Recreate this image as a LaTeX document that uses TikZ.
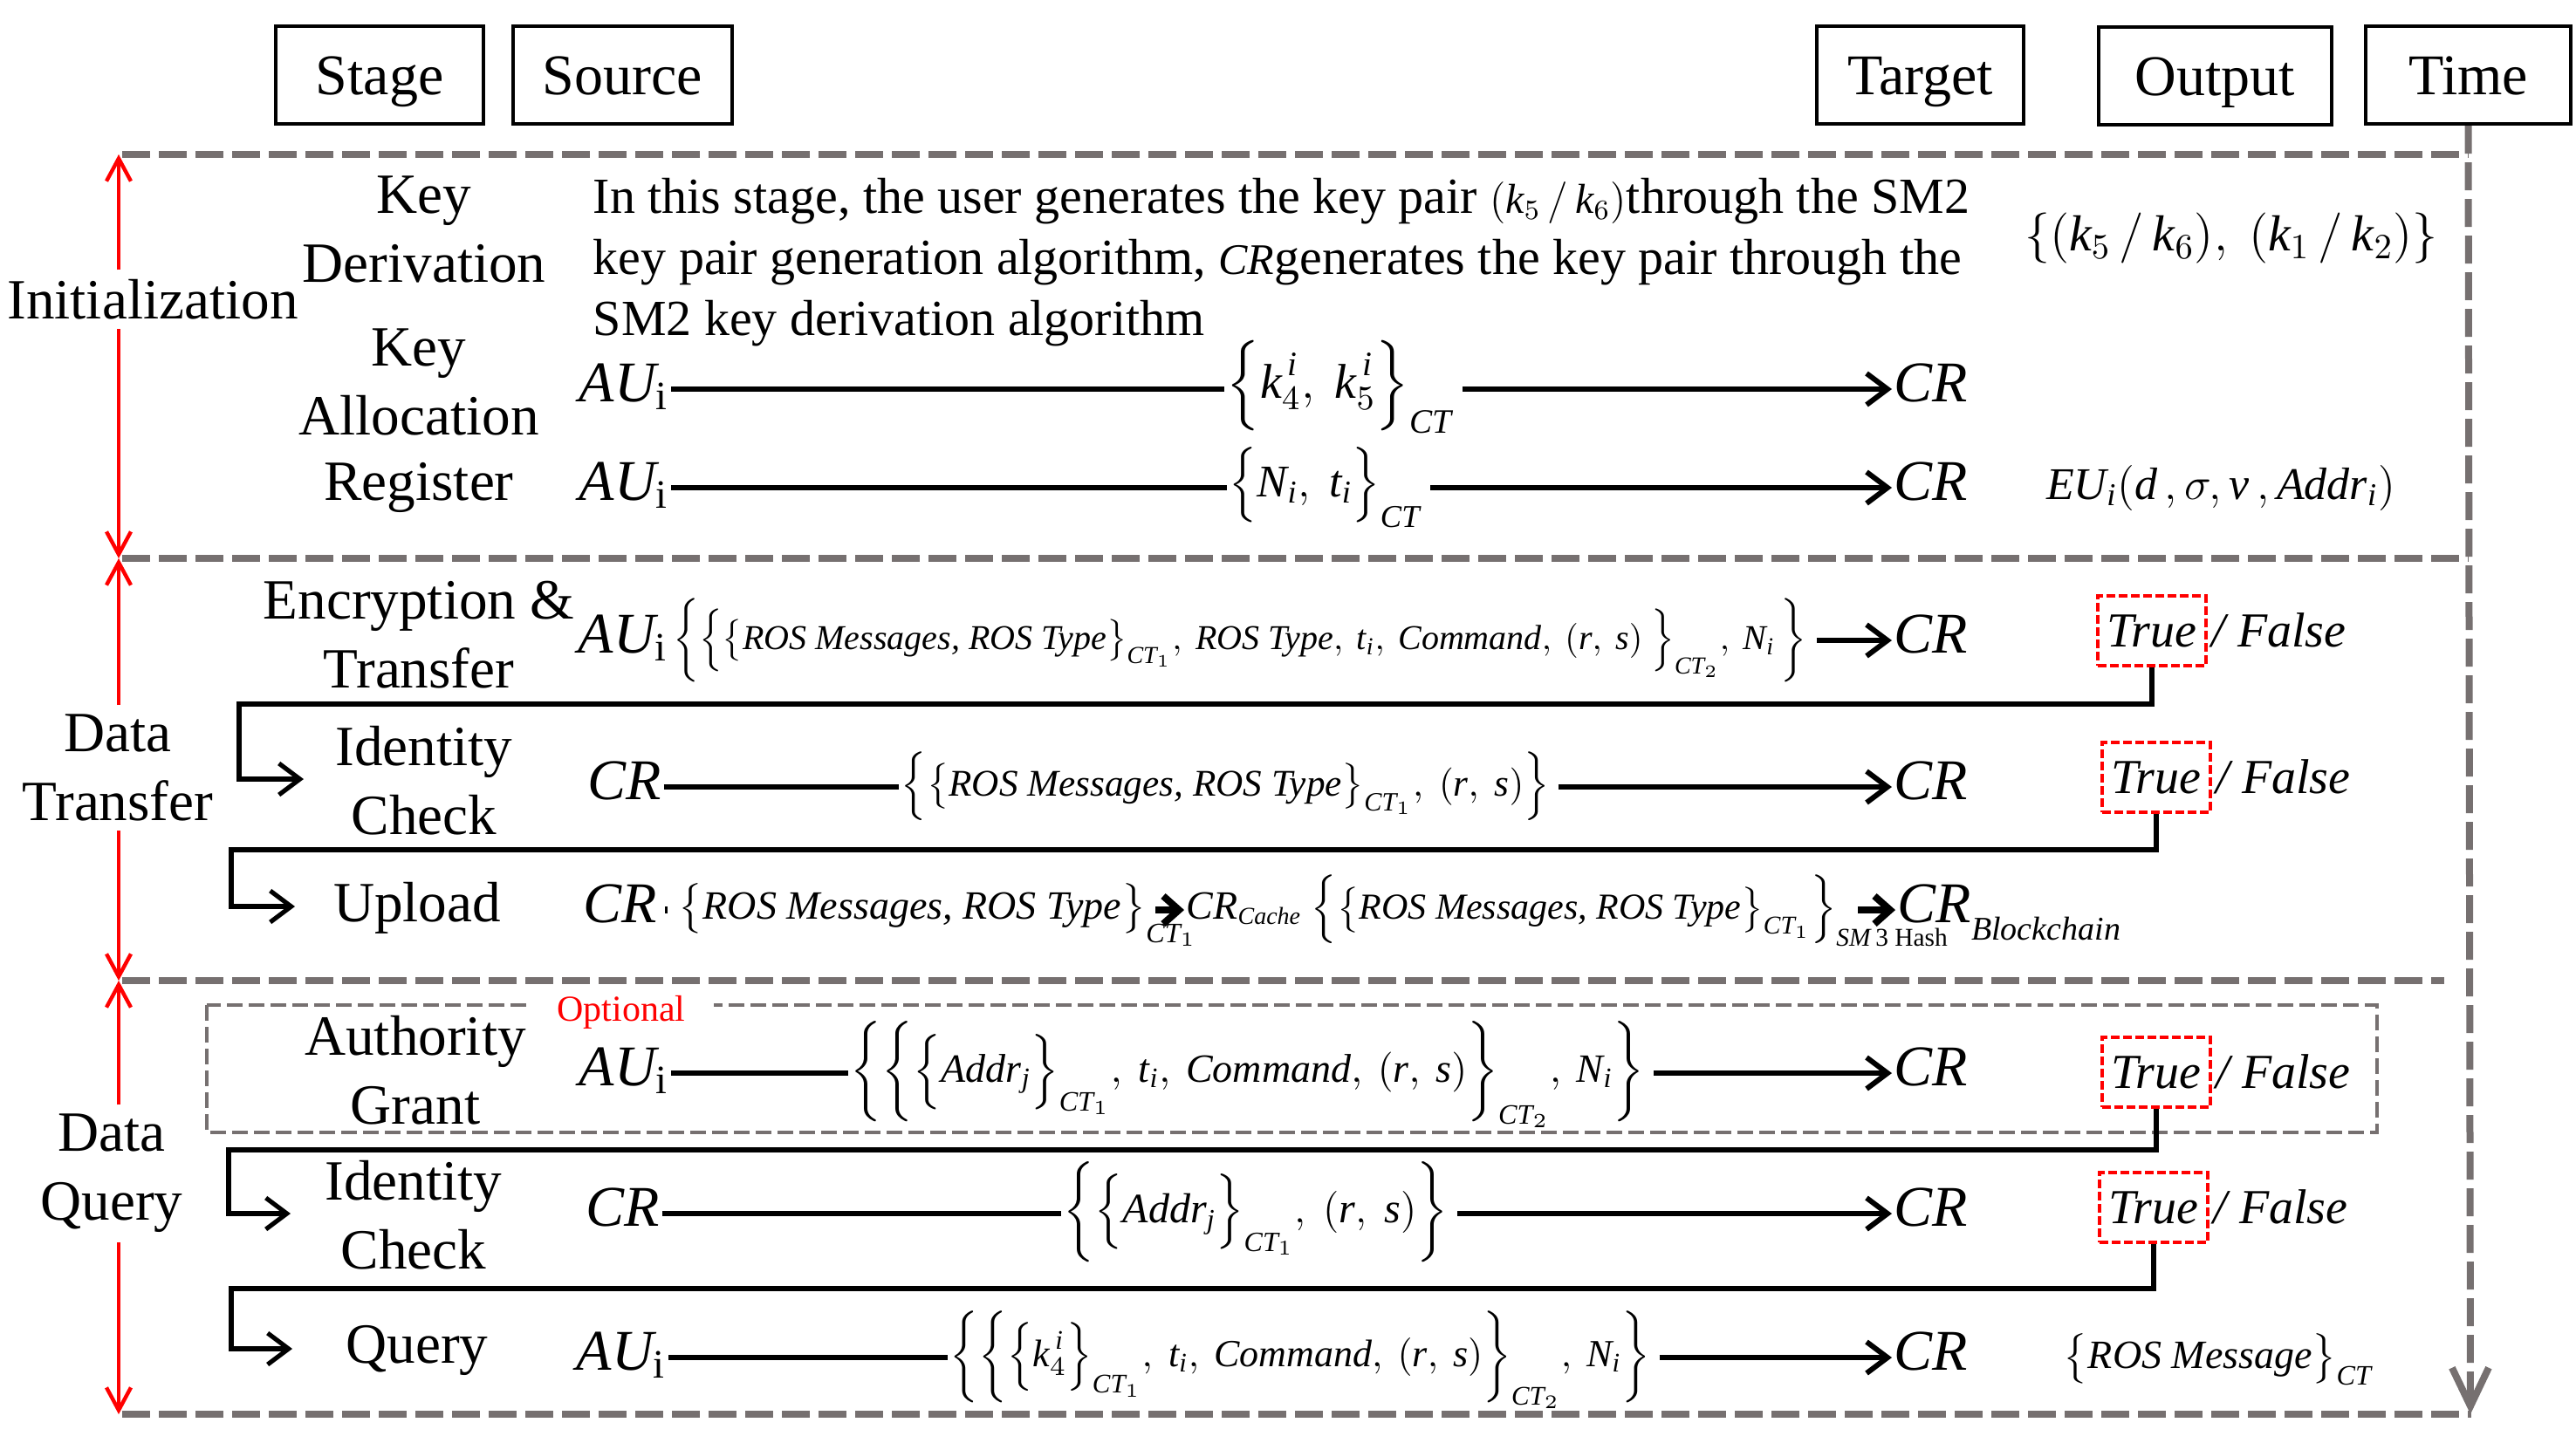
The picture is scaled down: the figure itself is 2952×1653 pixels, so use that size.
\RequirePackage{fix-cm}
\documentclass[tikz,border=0pt]{standalone}
\usepackage{amsmath}
\usepackage{fontspec}
\setmainfont{Liberation Serif}
\usetikzlibrary{arrows.meta}
\definecolor{framegray}{RGB}{118,112,112}
\newcommand{\xit}[1]{\text{\itshape #1}}
\newcommand{\xup}[1]{\text{\upshape #1}}
\begin{document}
\begin{tikzpicture}[x=0.25pt, y=-0.25pt,
  hdr/.style={draw, line width=1pt, minimum height=28pt, inner sep=0pt, text height=11pt, text depth=0pt, font=\fontsize{16.5}{20}\selectfont},
  stg/.style={align=center, font=\fontsize{16.3}{19.75}\selectfont, inner sep=1pt},
  sec/.style={align=center, font=\fontsize{16.3}{19.75}\selectfont, inner xsep=1pt, inner ysep=2.5pt},
  ent/.style={anchor=west, inner sep=0.5pt, font=\fontsize{16.5}{20}\selectfont, text height=1.35em, text depth=0.65em},
  msg/.style={anchor=west, inner sep=0.5pt, text height=1.25em, text depth=0.75em},
  wire/.style={line width=1.5pt},
  arr/.style={line width=1.5pt, shorten <=2pt, -{Straight Barb[length=6pt,width=9pt]}},
  boldarr/.style={line width=2pt, -{Straight Barb[length=4.5pt,width=8pt]}},
  elbow/.style={line width=1.3pt, -{Straight Barb[length=6pt,width=9pt]}},
  redarr/.style={red, line width=1.1pt, -{Straight Barb[length=6.5pt,width=7pt]}},
  frame/.style={draw=framegray, line width=2pt, dash pattern=on 8pt off 2.5pt},
  optframe/.style={draw=framegray, line width=1.2pt, dash pattern=on 4.5pt off 1.75pt},
  tbox/.style={draw=red, line width=0.8pt, dash pattern=on 2.5pt off 1pt, inner sep=0pt, minimum width=31pt, minimum height=20pt, font=\fontsize{14}{17}\selectfont\itshape},
  fls/.style={anchor=base west, inner sep=0pt, font=\fontsize{14}{17}\selectfont\itshape},
]
\useasboundingbox (0,0) rectangle (2952,1653);

% header boxes
\node[hdr, minimum width=59.5pt] (hstage) at (435,86) {Stage};
\node[hdr, minimum width=62.75pt] (hsource) at (713.5,86) {Source};
\node[hdr, minimum width=59.25pt] (htarget) at (2200.5,86) {Target};
\node[hdr, minimum width=66.75pt] (houtput) at (2538.5,87) {Output};
\node[hdr, minimum width=58.75pt] (htime) at (2828.5,86) {Time};

% frame
\draw[frame] (140,177) -- (2829,177);
\draw[frame] (140,640) -- (2829,640);
\draw[frame] (140,1124) -- (2801,1124);
\draw[frame] (140,1621) -- (2832,1621);
\coordinate (tend) at (2831,1621);
\draw[frame, -{Straight Barb[length=11pt,width=10.5pt]}] (htime.south) -- (tend);

% section labels and red arrows
\coordinate (ra0) at (136,177);
\coordinate (ra1) at (136,640);
\coordinate (ra2) at (136,1124);
\coordinate (ra3) at (136,1621);
\node[sec] (init) at (175,343) {Initialization};
\node[sec] (dt) at (135,880) {Data\\Transfer};
\node[sec] (dq) at (128,1345) {Data\\Query};
\draw[redarr] (init.north -| ra0) -- (ra0);
\draw[redarr] (init.south -| ra0) -- (ra1);
\draw[redarr] (dt.north -| ra0) -- (ra1);
\draw[redarr] (dt.south -| ra0) -- (ra2);
\draw[redarr] (dq.north -| ra0) -- (ra2);
\draw[redarr] (dq.south -| ra0) -- (ra3);

% stage labels
\node[stg] (kd) at (486,263) {Key\\Derivation};
\node[stg] (ka) at (480,438) {Key\\Allocation};
\node[stg] (rg) at (480,559) {Register};
\node[stg] (et) at (480,728) {Encryption \&\\Transfer};
\node[stg] (ic1) at (486,895) {Identity\\Check};
\node[stg] (up) at (478,1041) {Upload};
\node[stg] (ag) at (476,1227) {Authority\\Grant};
\node[stg] (ic2) at (474,1393) {Identity\\Check};
\node[stg] (qy) at (478,1548) {Query};

% key derivation description
\node[anchor=north west, align=left, inner sep=0pt, font=\fontsize{14.5}{17.5}\selectfont] (desc) at (679,203)
 {In this stage, the user generates the key pair {\fontsize{12}{14}\selectfont$(\xit{k}_5\,/\,\xit{k}_6)$}through the SM2\\
  key pair generation algorithm, {\fontsize{12.5}{14}\selectfont\itshape CR}generates the key pair through the\\
  SM2 key derivation algorithm};
\node[font=\fontsize{14.5}{18}\selectfont, inner sep=0pt] (o1) at (2557,273) {$\{(\xit{k}_5\,/\,\xit{k}_6),\ (\xit{k}_1\,/\,\xit{k}_2)\}$};

% key allocation
\node[ent] (kas) at (661,446) {$\xit{AU}_{\xup{i}}$};
\node[msg, font=\fontsize{14}{16}\selectfont] (kam) at (1403,446) {$\Bigl\{\xit{k}_4^{\,\xit{i}},\ \xit{k}_5^{\,\xit{i}}\Bigr\}_{\xit{CT}}$};
\node[ent] (kat) at (2168,446) {\itshape CR};
\draw[wire] (kas) -- (kam);
\draw[arr] (kam) -- (kat);

% register
\node[ent] (rgs) at (661,559) {$\xit{AU}_{\xup{i}}$};
\node[msg, font=\fontsize{13}{16}\selectfont] (rgm) at (1406,559) {$\Bigl\{\xit{N}_{\xit{i}},\ \xit{t}_{\xit{i}}\Bigr\}_{\xit{CT}}$};
\node[ent] (rgt) at (2168,559) {\itshape CR};
\draw[wire] (rgs) -- (rgm);
\draw[arr] (rgm) -- (rgt);
\node[font=\fontsize{13}{16}\selectfont, inner sep=0pt] (o2) at (2545,559) {$\xit{EU}_{\xit{i}}(\xit{d}\,,\sigma,\xit{v}\,,\xit{Addr}_{\xit{i}})$};

% encryption & transfer
\node[ent] (ets) at (660,734) {$\xit{AU}_{\xup{i}}$};
\node[msg, font=\fontsize{10}{12}\selectfont] (etm) at (ets.east) {$\biggl\{\Bigl\{\bigl\{\xit{ROS Messages, ROS Type}\bigr\}_{\xit{CT}_1},\:\xit{ROS Type},\:\xit{t}_{\xit{i}},\:\xit{Command},\:(\xit{r},\:\xit{s})\ \Bigr\}_{\xit{CT}_2},\:\xit{N}_{\xit{i}}\,\biggr\}$};
\node[ent] (ett) at (2168,734) {\itshape CR};
\draw[arr] (etm) -- (ett);
\node[tbox] (t1) at (2466,723) {True};
\node[fls] (f1) at ([xshift=1pt]t1.base east) {/ False};

% identity check (transfer)
\node[ent] (i1s) at (671,902) {\itshape CR};
\node[msg, font=\fontsize{10.8}{13}\selectfont] (i1m) at (1030,902) {$\Bigl\{\bigl\{\xit{ROS Messages, ROS Type}\bigr\}_{\xit{CT}_1},\ (\xit{r},\ \xit{s})\Bigr\}$};
\node[ent] (i1t) at (2168,902) {\itshape CR};
\draw[wire] (i1s) -- (i1m);
\draw[arr] (i1m) -- (i1t);
\node[tbox] (t2) at (2471,891) {True};
\node[fls] (f2) at ([xshift=1pt]t2.base east) {/ False};

% upload
\node[ent] (ups) at (666,1043) {\itshape CR};
\node[msg, font=\fontsize{11.5}{13}\selectfont] (upm1) at (775,1043) {$\bigl\{\xit{ROS Messages, ROS Type}\bigr\}_{\rlap{\raisebox{-2pt}{$\scriptstyle\xit{CT}_1$}}}$};
\node[msg, font=\fontsize{11.5}{14}\selectfont] (upc) at (1357,1043) {$\xit{CR}_{\text{\fontsize{7}{8}\selectfont\itshape Cache}}$};
\node[msg, font=\fontsize{10.5}{13}\selectfont] (upm2) at (1500,1043) {$\Bigl\{\bigl\{\xit{ROS Messages, ROS Type}\bigr\}_{\xit{CT}_1}\Bigr\}_{\rlap{$\scriptstyle\xit{SM}\,\xup{3 Hash}$}}$};
\node[ent] (upt) at (2172,1043) {\itshape CR\raisebox{-5pt}{\fontsize{9.5}{10}\selectfont Blockchain}};
\draw[line width=2pt, shorten <=1.5pt, shorten >=2.5pt] (ups) -- (upm1);
\draw[boldarr, shorten <=1.5pt] (upm1) -- (upc);
\draw[boldarr, shorten <=5pt] (upm2) -- (upt);

% optional authority grant box
\draw[optframe] (237,1152) rectangle (2724,1298);
\node[fill=white, text=red, inner xsep=0pt, inner ysep=1pt, minimum width=53pt, font=\fontsize{10.5}{12}\selectfont] (optl) at (712,1160) {Optional};

% authority grant
\node[ent] (ags) at (661,1230) {$\xit{AU}_{\xup{i}}$};
\node[msg, font=\fontsize{11.5}{14}\selectfont] (agm) at (972,1230) {$\biggl\{\biggl\{\Bigl\{\xit{Addr}_{\xit{j}}\Bigr\}_{\xit{CT}_1},\ \xit{t}_{\xit{i}},\:\xit{Command},\:(\xit{r},\:\xit{s})\biggr\}_{\xit{CT}_2},\:\xit{N}_{\xit{i}}\biggr\}$};
\node[ent] (agt) at (2168,1230) {\itshape CR};
\draw[wire] (ags) -- (agm);
\draw[arr] (agm) -- (agt);
\node[tbox] (t3) at (2471,1229) {True};
\node[fls] (f3) at ([xshift=1pt]t3.base east) {/ False};

% identity check (query)
\node[ent] (i2s) at (669,1391) {\itshape CR};
\node[msg, font=\fontsize{12}{14}\selectfont] (i2m) at (1216,1391) {$\biggl\{\Bigl\{\xit{Addr}_{\xit{j}}\Bigr\}_{\xit{CT}_1},\ (\xit{r},\ \xit{s})\biggr\}$};
\node[ent] (i2t) at (2168,1391) {\itshape CR};
\draw[wire] (i2s) -- (i2m);
\draw[arr] (i2m) -- (i2t);
\node[tbox] (t4) at (2468,1384) {True};
\node[fls] (f4) at ([xshift=1pt]t4.base east) {/ False};

% query
\node[ent] (qys) at (658,1556) {$\xit{AU}_{\xup{i}}$};
\node[msg, font=\fontsize{11}{13}\selectfont] (qym) at (1086,1556) {$\biggl\{\biggl\{\Bigl\{\xit{k}_{4}^{\,\xit{i}}\Bigr\}_{\xit{CT}_1},\ \xit{t}_{\xit{i}},\:\xit{Command},\:(\xit{r},\:\xit{s})\biggr\}_{\xit{CT}_2},\:\xit{N}_{\xit{i}}\biggr\}$};
\node[ent] (qyt) at (2168,1556) {\itshape CR};
\draw[wire] (qys) -- (qym);
\draw[arr] (qym) -- (qyt);
\node[font=\fontsize{11.5}{14}\selectfont, inner sep=0pt] (o3) at (2542,1558) {$\bigl\{\xit{ROS Message}\bigr\}_{\xit{CT}}$};

% elbow connectors
\coordinate (e1) at (348,893);
\coordinate (e2) at (338,1039);
\coordinate (e3) at (333,1391);
\coordinate (e4) at (335,1546);
\draw[elbow] (t1.south) |- (274,807) |- (e1);
\draw[elbow] (t2.south) |- (265,974) |- (e2);
\draw[elbow] (t3.south) |- (262,1318) |- (e3);
\draw[elbow] (t4.south) |- (265,1477) |- (e4);
\end{tikzpicture}
\end{document}
